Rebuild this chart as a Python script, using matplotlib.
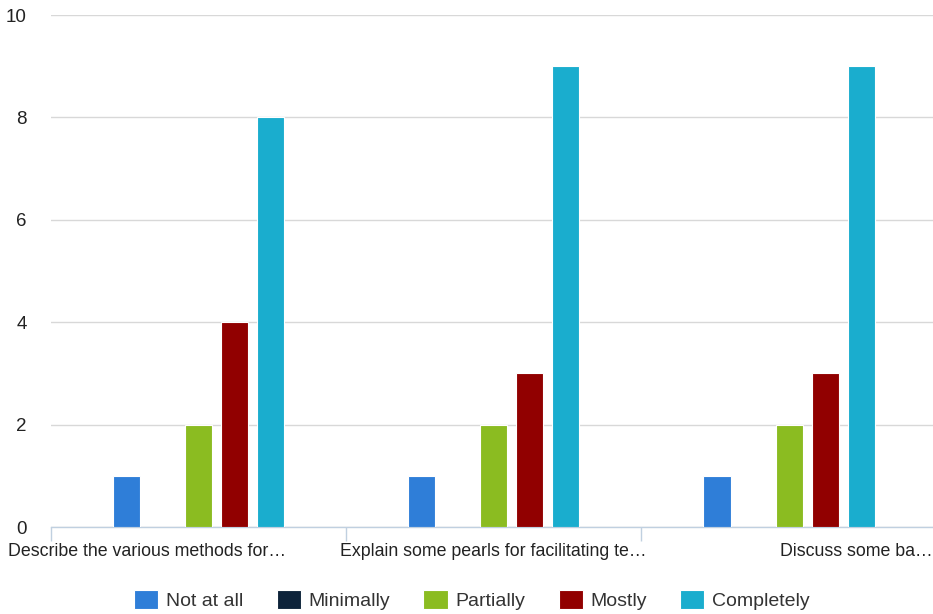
import matplotlib.pyplot as plt
import numpy as np

plt.rcParams['font.family'] = ['Liberation Sans', 'DejaVu Sans']

categories = ["Describe the various methods for\u2026",
              "Explain some pearls for facilitating te\u2026",
              "Discuss some ba\u2026"]
series = ["Not at all", "Minimally", "Partially", "Mostly", "Completely"]
values = {
    "Not at all": [1, 1, 1],
    "Minimally": [0, 0, 0],
    "Partially": [2, 2, 2],
    "Mostly": [4, 3, 3],
    "Completely": [8, 9, 9],
}
colors = ["#2f7ed8", "#0d233a", "#8bbc21", "#910000", "#1aadce"]

fig = plt.figure(figsize=(9.33, 6.14), dpi=100)
ax = fig.add_axes([50.6 / 933, 1 - 527 / 614, 1 - 50.6 / 933, (527 - 15) / 614])

x = np.arange(len(categories))
slot = 0.122
width = 0.092
for i, s in enumerate(series):
    ax.bar(x + (i - 2) * slot, values[s], width, color=colors[i],
           edgecolor="white", linewidth=0.8, label=s, zorder=3)

ax.set_xlim(-0.5, 2.487)
ax.set_ylim(0, 10)
ax.set_yticks(range(0, 11, 2))
ax.yaxis.grid(True, color="#d8d8d8", linewidth=1, zorder=0)
for sp in ["top", "right", "left"]:
    ax.spines[sp].set_visible(False)
ax.spines["bottom"].set_color("#c0d0e0")
ax.spines["bottom"].set_linewidth(1)
ax.tick_params(axis="y", length=0, pad=17, labelsize=13.5, colors="#222222")

# group boundary ticks
ax.set_xticks([-0.5, 0.5, 1.5])
ax.set_xticklabels([])
ax.tick_params(axis="x", length=10, color="#c0d0e0", width=1)

# category labels
ax.text(-0.644, -0.47, categories[0], ha="left", va="center", fontsize=12.8, color="#222222")
ax.text(1.0, -0.47, categories[1], ha="center", va="center", fontsize=12.8, color="#222222")
ax.text(2.487, -0.47, categories[2], ha="right", va="center", fontsize=12.8, color="#222222",
        clip_on=False)

fig.legend(loc="center", bbox_to_anchor=(0.506, 1 - 600 / 614), ncol=5, frameon=False,
           fontsize=14, handlelength=1.24, handleheight=1.1, handletextpad=0.41,
           columnspacing=1.7, labelcolor="#333333")

fig.savefig("out.png", dpi=100)
